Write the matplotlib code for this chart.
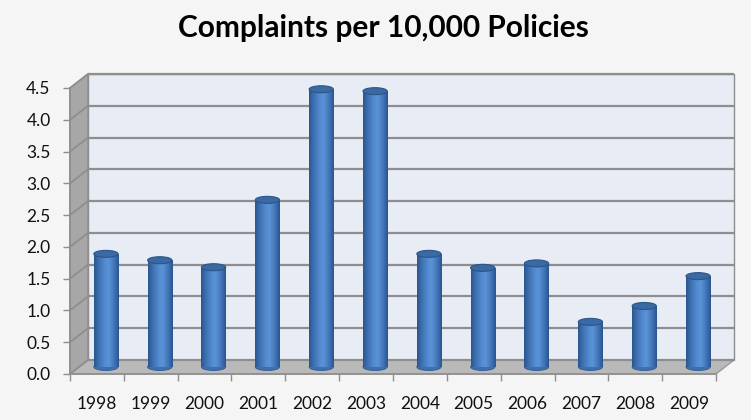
import numpy as np
import matplotlib.pyplot as plt
from matplotlib.patches import Rectangle, Polygon, Ellipse
from matplotlib.colors import LinearSegmentedColormap

years = ['1998', '1999', '2000', '2001', '2002', '2003',
         '2004', '2005', '2006', '2007', '2008', '2009']
complaints = [1.78, 1.68, 1.57, 2.63, 4.37, 4.34, 1.78, 1.56, 1.63, 0.71, 0.96, 1.43]
y_ticks = [0.0, 0.5, 1.0, 1.5, 2.0, 2.5, 3.0, 3.5, 4.0, 4.5]

plt.rcParams['font.family'] = ['Lato', 'DejaVu Sans']

fig = plt.figure(figsize=(7.51, 4.20), dpi=100)
fig.patch.set_facecolor('#f5f5f5')

# axes = front plane of the 3d box
ax = fig.add_axes([70/751, 46/420, 646/751, 286/420])
n = len(years)
ymax = y_ticks[-1]
ax.patch.set_visible(False)

# depth of the box in data units (about 18px right, 14px up)
DX = 18 / (646 / n)
DY = 14 / (286 / ymax)
grid_c = '#8e8e8e'

# back wall
ax.add_patch(Rectangle((-0.5 + DX, DY), n, ymax, fc='#e8ecf5', ec=grid_c,
                       lw=1, zorder=0, clip_on=False))
# side wall
ax.add_patch(Polygon([(-0.5, 0), (-0.5, ymax), (-0.5 + DX, ymax + DY), (-0.5 + DX, DY)],
                     closed=True, fc='#a7a7a7', ec=grid_c, lw=1, zorder=1, clip_on=False))
# floor
ax.add_patch(Polygon([(-0.5, 0), (n - 0.5, 0), (n - 0.5 + DX, DY), (-0.5 + DX, DY)],
                     closed=True, fc='#b9b9b9', ec='#9a9a9a', lw=1, zorder=1, clip_on=False))

for y in y_ticks:
    ax.plot([-0.5 + DX, n - 0.5 + DX], [y + DY, y + DY], color=grid_c, lw=1.6,
            zorder=1, clip_on=False, solid_capstyle='butt')
    ax.plot([-0.5, -0.5 + DX], [y, y + DY], color=grid_c, lw=1.3, zorder=2, clip_on=False)

# cylinders
cyl = LinearSegmentedColormap.from_list('cyl', [
    (0.0, '#2b5690'), (0.15, '#3a6cab'), (0.45, '#558dd2'),
    (0.6, '#5a92d6'), (0.85, '#3d70b1'), (1.0, '#2a5590')])
grad = np.linspace(0, 1, 64).reshape(1, -1)
w = 0.45
eh = 7 / (286 / ymax)
for i, v in enumerate(complaints):
    cx = i + DX / 2
    base = DY / 2
    ax.add_patch(Ellipse((cx, base), w, eh, fc='#3d6fae', ec='#2e5a95', lw=0.6,
                         zorder=3, clip_on=False))
    body = Rectangle((cx - w / 2, base), w, v, fc='none', ec='none', zorder=4)
    ax.add_patch(body)
    im = ax.imshow(grad, cmap=cyl, aspect='auto', extent=(cx - w / 2, cx + w / 2, base, base + v),
                   zorder=4, interpolation='bilinear')
    im.set_clip_path(body)
    ax.add_patch(Ellipse((cx, base + v), w, eh, fc='#3b69a4', ec='#2c5588', lw=0.8,
                         zorder=5, clip_on=False))

ax.set_xlim(-0.5, n - 0.5)
ax.set_ylim(0, ymax)

for s in ['top', 'right']:
    ax.spines[s].set_visible(False)
for s in ['left', 'bottom']:
    ax.spines[s].set_color(grid_c)
    ax.spines[s].set_linewidth(1.2)
    ax.spines[s].set_zorder(6)

ax.set_yticks(y_ticks)
ax.set_yticklabels(['{:.1f}'.format(t) for t in y_ticks])
ax.tick_params(axis='y', length=5, width=1, color=grid_c, pad=9, labelsize=12.5,
               labelcolor='#111111')
ax.set_xticks(np.arange(-0.5, n, 1))
ax.set_xticklabels([])
ax.set_xticks(np.arange(n), minor=True)
ax.set_xticklabels(years, minor=True)
ax.tick_params(axis='x', which='major', length=5, width=1, color=grid_c)
ax.tick_params(axis='x', which='minor', length=0, pad=16, labelsize=12.5, labelcolor='#111111')

fig.text(0.51, 0.933, 'Complaints per 10,000 Policies', ha='center', va='center',
         fontsize=21.5, fontweight='bold', color='#000000')

fig.savefig('out.png', dpi=100, facecolor=fig.get_facecolor())
